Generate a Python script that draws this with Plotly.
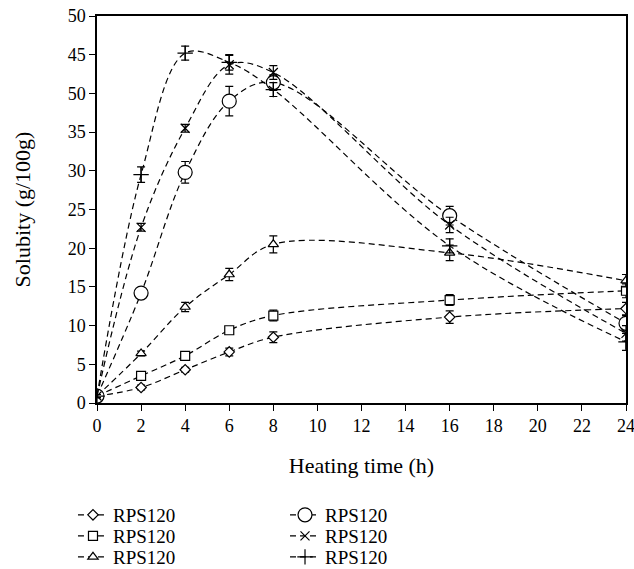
import plotly.graph_objects as go

hours = [0, 2, 4, 6, 8, 16, 24]

names = ["RPS120", "RPS120", "RPS120", "RPS120", "RPS120", "RPS120"]

diamond_vals = [0.9, 2.0, 4.3, 6.6, 8.5, 11.1, 12.2]
diamond_err = [0.2, 0.3, 0.3, 0.5, 0.7, 0.8, 0.8]
square_vals = [0.9, 3.5, 6.1, 9.4, 11.3, 13.3, 14.5]
square_err = [0.2, 0.3, 0.3, 0.4, 0.7, 0.7, 0.9]
triangle_vals = [0.9, 6.4, 12.4, 16.6, 20.5, 19.4, 15.8]
triangle_err = [0.2, 0.3, 0.6, 0.8, 1.1, 1.0, 0.8]
circle_vals = [0.9, 14.2, 29.8, 39.0, 41.4, 24.2, 10.3]
circle_err = [0.2, 0.6, 1.4, 1.9, 1.0, 1.2, 1.0]
x_vals = [0.9, 22.7, 35.5, 43.7, 42.7, 23.0, 9.0]
x_err = [0.2, 0.5, 0.5, 1.2, 0.9, 1.0, 1.0]
plus_vals = [0.9, 29.5, 45.2, 44.0, 40.5, 20.3, 7.9]
plus_err = [0.2, 1.0, 0.9, 1.0, 0.9, 0.9, 1.1]

y_tickvals = [0, 5, 10, 15, 20, 25, 30, 35, 40, 45, 50]
y_ticktext = ["0", "5", "10", "15", "20", "25", "30", "35", "50", "45", "50"]
x_tickvals = [0, 2, 4, 6, 8, 10, 12, 14, 16, 18, 20, 22, 24]

FONT = "Liberation Serif, Times New Roman, serif"
FS = 18
LFS = 19

series = [
    (diamond_vals, diamond_err, "diamond", 8, "white"),
    (square_vals, square_err, "square", 9, "white"),
    (triangle_vals, triangle_err, "triangle-up", 9, "white"),
    (circle_vals, circle_err, "circle", 14, "white"),
    (x_vals, x_err, "x-thin-open", 9, "black"),
    (plus_vals, plus_err, "cross-thin-open", 11, "black"),
]
legend_ids = ["legend", "legend2", "legend3", "legend4", "legend5", "legend6"]
legend_pos = [(-0.0454, -0.2894), (-0.0454, -0.3437), (-0.0454, -0.3979),
              (0.3554, -0.2894), (0.3554, -0.3437), (0.3554, -0.3979)]

fig = go.Figure()
for i, (vals, err, sym, size, fill) in enumerate(series):
    fig.add_trace(go.Scatter(
        x=hours, y=vals, name=names[i],
        mode="lines+markers", showlegend=True,
        line=dict(color="black", width=1.2, dash="6px,4px", shape="spline", smoothing=1),
        marker=dict(symbol=sym, size=size, color=fill,
                    line=dict(color="black", width=1.2)),
        error_y=dict(type="data", array=err, visible=True, color="black",
                     thickness=1.2, width=4),
        legend=legend_ids[i],
    ))

layout_legends = {}
for lid, (lx, ly) in zip(legend_ids, legend_pos):
    layout_legends[lid] = dict(x=lx, y=ly, xanchor="left", yanchor="middle",
                               bgcolor="rgba(0,0,0,0)",
                               font=dict(family=FONT, size=LFS, color="black"))

fig.update_layout(
    width=634, height=569, showlegend=True,
    margin=dict(l=97, r=8, t=16, b=166, autoexpand=False),
    paper_bgcolor="white", plot_bgcolor="white",
    font=dict(family=FONT, size=FS, color="black"),
    xaxis=dict(range=[0, 24], tickvals=x_tickvals, ticks="outside", ticklen=6,
               tickwidth=1.2, tickcolor="black", automargin=True,
               ticklabeloverflow="allow",
               showline=True, linecolor="black", linewidth=1.5, mirror=True,
               showgrid=False, zeroline=False,
               title=dict(text="Heating time (h)", standoff=22)),
    yaxis=dict(range=[0, 50], tickvals=y_tickvals, ticktext=y_ticktext,
               ticks="outside", ticklen=6, tickwidth=1.2, tickcolor="black",
               showline=True, linecolor="black", linewidth=1.5, mirror=True,
               showgrid=False, zeroline=False, automargin=True,
               ticklabeloverflow="allow",
               title=dict(text="Solubity (g/100g)", standoff=31)),
    **layout_legends,
)

fig.write_html("out.html", config={"displayModeBar": False},
               post_script="document.body.style.margin='0px';")
